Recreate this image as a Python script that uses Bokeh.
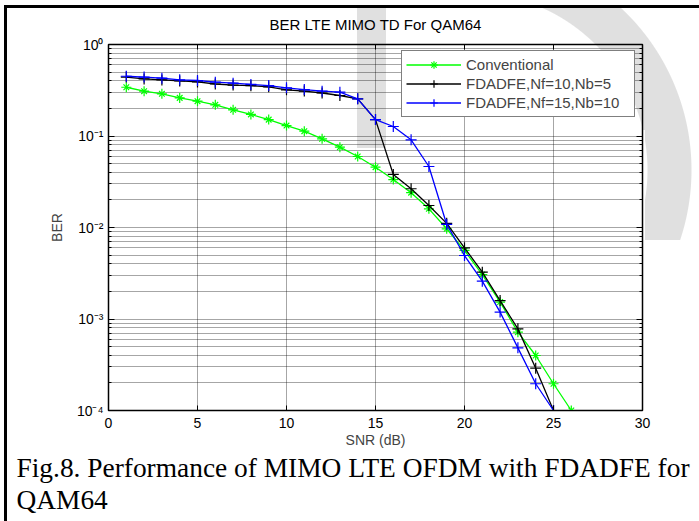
from bokeh.plotting import figure
from bokeh.models import (Legend, LegendItem, FixedTicker, LinearAxis, LogAxis,
                          Title)
from bokeh.embed import file_html
from bokeh.resources import INLINE

# ---- data -----------------------------------------------------------------
snr_conv = list(range(1, 27))
ber_conv = [0.341, 0.309, 0.289, 0.261, 0.240, 0.219, 0.193, 0.172, 0.151,
            0.130, 0.113, 0.0931, 0.0755, 0.0597, 0.0456, 0.0334, 0.0240,
            0.0160, 0.00968, 0.00561, 0.00306, 0.00153, 0.000718, 0.000399,
            0.000196, 0.0001]

snr_fd = list(range(1, 26))
ber_nf10_nb5 = [0.44, 0.42, 0.41, 0.40, 0.39, 0.37, 0.36, 0.355, 0.345, 0.32,
                0.31, 0.295, 0.277, 0.255, 0.151, 0.038, 0.0265, 0.0174,
                0.0111, 0.0060, 0.00325, 0.00159, 0.00078, 0.00029, 0.0001]
ber_nf15_nb10 = [0.45, 0.44, 0.428, 0.411, 0.404, 0.387, 0.378, 0.366, 0.356,
                 0.336, 0.322, 0.309, 0.301, 0.255, 0.151, 0.127, 0.0908,
                 0.0464, 0.0108, 0.00494, 0.00259, 0.00119, 0.000484,
                 0.000196, 0.0001]

x_ticks = [0, 5, 10, 15, 20, 25, 30]
y_major = [1.0, 0.1, 0.01, 0.001, 0.0001]
y_tick_labels = ["10\u2070", "10\u207b\u00b9", "10\u207b\u00b2",
                 "10\u207b\u00b3", "10\u207b\u2074"]

title_text = "BER LTE MIMO TD For QAM64"
xlabel_text = "SNR (dB)"
ylabel_text = "BER"
caption_lines = ["Fig.8. Performance of MIMO LTE OFDM with FDADFE for",
                 "QAM64"]

SANS = "Liberation Sans"
SERIF = "Liberation Serif"

y_minor = [m * 10.0 ** e for e in range(-4, 0) for m in range(2, 10)]

# ---- figure -----------------------------------------------------------------
p = figure(width=692, height=513, x_range=(0, 30), y_range=(1e-4, 1),
           y_axis_type="log", output_backend="svg", toolbar_location=None,
           title=None, min_border_left=101, min_border_right=57,
           min_border_top=36, min_border_bottom=111)

# page frame (thick rule on top and left) and the faint grey page watermark
# behind a transparent canvas
WM = "#e0e0e0"
RING = (f"transparent 177px, {WM} 178px, {WM} 221px, transparent 222px")
p.styles = {
    "margin-left": "7px", "margin-top": "8px",
    "box-shadow": "-3px -3px 0 0 black, -3px 0 0 0 black, 0 -3px 0 0 black",
    "background":
        f"linear-gradient({WM}, {WM}) 350px 0px / 29px 140px no-repeat, "
        f"radial-gradient(circle at -70px 162px, {RING}) "
        "533px 0px / 159px 122px no-repeat, "
        f"radial-gradient(circle at -175px 40px, {RING}) "
        "638px 122px / 54px 110px no-repeat, "
        "white",
}
p.background_fill_alpha = 0
p.border_fill_alpha = 0
p.outline_line_color = "black"
p.outline_line_width = 1.5

xt = FixedTicker(ticks=x_ticks)
yt = FixedTicker(ticks=y_major, minor_ticks=y_minor)

xa = p.xaxis[0]
xa.ticker = xt
xa.major_tick_in = 5
xa.major_tick_out = 0
xa.minor_tick_line_color = None
xa.axis_line_color = "black"
xa.major_label_text_font = SANS
xa.major_label_text_font_size = "14px"
xa.major_label_text_color = "black"
xa.major_label_standoff = 7
xa.axis_label = xlabel_text
xa.axis_label_text_font = SANS
xa.axis_label_text_font_size = "14px"
xa.axis_label_text_font_style = "normal"
xa.axis_label_standoff = 1

ya = p.yaxis[0]
ya.ticker = yt
ya.major_tick_in = 6
ya.major_tick_out = 0
ya.minor_tick_in = 3
ya.minor_tick_out = 0
ya.axis_line_color = "black"
ya.major_label_overrides = dict(zip(y_major, y_tick_labels))
ya.major_label_text_font = SANS
ya.major_label_text_font_size = "14px"
ya.major_label_text_color = "black"
ya.major_label_standoff = 5
ya.axis_label = ylabel_text
ya.axis_label_text_font = SANS
ya.axis_label_text_font_size = "14px"
ya.axis_label_text_font_style = "normal"
ya.axis_label_standoff = 9

# top axis carries the chart heading as its label
top_axis = LinearAxis(ticker=xt, major_tick_in=5, major_tick_out=0,
                      minor_tick_line_color=None, major_label_text_color=None,
                      major_label_text_font_size="1px", major_label_standoff=0,
                      axis_line_color="black",
                      axis_label=title_text, axis_label_text_font=SANS,
                      axis_label_text_font_size="15px",
                      axis_label_text_font_style="normal",
                      axis_label_text_color="black",
                      axis_label_standoff=12)
right_axis = LogAxis(ticker=yt, major_tick_in=6, major_tick_out=0,
                     minor_tick_in=3, minor_tick_out=0,
                     major_label_text_color=None,
                     major_label_text_font_size="1px", major_label_standoff=0,
                     axis_line_color="black")
p.add_layout(top_axis, "above")
p.add_layout(right_axis, "right")

# dotted grid, majors and log minors alike
GRID = "#000000"
p.xgrid.ticker = FixedTicker(ticks=x_ticks[1:-1])
p.ygrid.ticker = FixedTicker(ticks=y_major[1:-1], minor_ticks=y_minor)
for g in (p.xgrid[0], p.ygrid[0]):
    g.grid_line_color = GRID
    g.grid_line_alpha = 0.7
    g.grid_line_dash = "1 1"
    g.grid_line_width = 1
p.ygrid[0].minor_grid_line_color = GRID
p.ygrid[0].minor_grid_line_alpha = 0.7
p.ygrid[0].minor_grid_line_dash = "1 1"
p.ygrid[0].minor_grid_line_width = 1

# ---- curves -----------------------------------------------------------------
GREEN, BLACK, BLUE = "#00ff00", "#000000", "#0000ff"

l1 = p.line(snr_conv, ber_conv, line_color=GREEN, line_width=1.3)
m1a = p.scatter(snr_conv, ber_conv, marker="cross", size=10, line_color=GREEN,
                line_width=1.2)
m1b = p.scatter(snr_conv, ber_conv, marker="x", size=8, line_color=GREEN,
                line_width=1.2)

l2 = p.line(snr_fd, ber_nf10_nb5, line_color=BLACK, line_width=1.3)
m2 = p.scatter(snr_fd, ber_nf10_nb5, marker="cross", size=11, line_color=BLACK,
               line_width=1.2)

l3 = p.line(snr_fd, ber_nf15_nb10, line_color=BLUE, line_width=1.3)
m3 = p.scatter(snr_fd, ber_nf15_nb10, marker="cross", size=11, line_color=BLUE,
               line_width=1.2)

legend = Legend(items=[
    LegendItem(label="Conventional", renderers=[l1, m1a, m1b]),
    LegendItem(label="FDADFE,Nf=10,Nb=5", renderers=[l2, m2]),
    LegendItem(label="FDADFE,Nf=15,Nb=10", renderers=[l3, m3]),
], location=(293, 293))
legend.border_line_color = "black"
legend.border_line_width = 1
legend.background_fill_color = "white"
legend.background_fill_alpha = 1
legend.label_text_font = SANS
legend.label_text_font_size = "15px"
legend.glyph_width = 55
legend.glyph_height = 19
legend.label_height = 19
legend.label_width = 164
legend.label_standoff = 5
legend.spacing = 0
legend.padding = 4
legend.margin = 0
p.add_layout(legend)

# ---- figure caption under the axes -----------------------------------------
for line in caption_lines:
    p.add_layout(Title(text=line, align="left", offset=-92, standoff=0,
                       text_font=SERIF, text_font_size="27.4px",
                       text_font_style="normal", text_color="black"), "below")

open("out.html", "w").write(file_html(p, INLINE))
